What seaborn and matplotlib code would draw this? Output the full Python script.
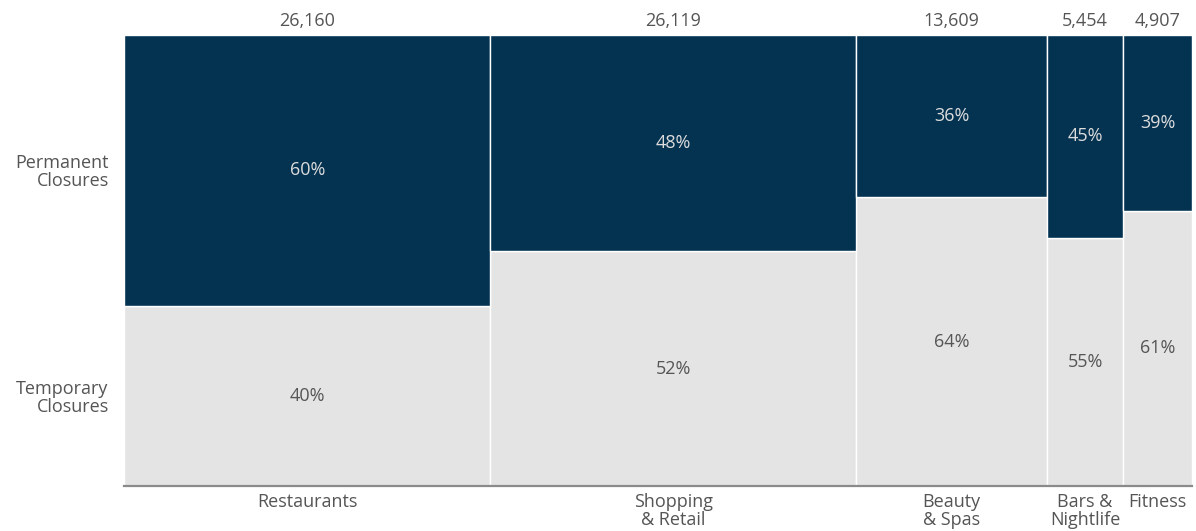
import numpy as np
import pandas as pd
import matplotlib
matplotlib.use("Agg")
import matplotlib.pyplot as plt
import seaborn as sns

# Business closures by category: total count and share that are permanent
categories = ["Restaurants", "Shopping\n& Retail", "Beauty\n& Spas", "Bars &\nNightlife", "Fitness"]
totals = [26160, 26119, 13609, 5454, 4907]
permanent_pct = [60, 48, 36, 45, 39]
temporary_pct = [40, 52, 64, 55, 61]
row_labels = ["Permanent\nClosures", "Temporary\nClosures"]

sns.set_theme(style="white")
plt.rcParams["font.family"] = ["Open Sans", "DejaVu Sans"]

DARK = "#043251"
LIGHT = "#e4e4e4"
TEXT = "#555555"
FS = 13

# Column edges: each column's width is proportional to its total count
edges = [0] + [int(v) for v in np.cumsum(totals)]
centers = [(a + b) / 2 for a, b in zip(edges[:-1], edges[1:])]

df = pd.DataFrame({
    "x": centers + centers,
    "pct": permanent_pct + temporary_pct,
    "kind": ["Permanent"] * len(totals) + ["Temporary"] * len(totals),
})

fig = plt.figure(figsize=(11.96, 5.31), dpi=100)
ax = fig.add_axes([124 / 1196, 45 / 531, 1068 / 1196, 451 / 531])

sns.histplot(
    data=df, x="x", weights="pct", hue="kind", bins=edges,
    multiple="stack", hue_order=["Permanent", "Temporary"],
    palette={"Permanent": DARK, "Temporary": LIGHT},
    edgecolor="white", linewidth=1.0, alpha=1.0, legend=False, ax=ax,
)

ax.set_xlim(edges[0], edges[-1])
ax.set_ylim(0, 100)
ax.set_xlabel("")
ax.set_ylabel("")

# Percentage labels centred in each segment; totals above each column
for c, p, t, n in zip(centers, permanent_pct, temporary_pct, totals):
    ax.text(c, t + p / 2, f"{p}%", ha="center", va="center", color="#dddddd", fontsize=FS)
    ax.text(c, t / 2, f"{t}%", ha="center", va="center", color=TEXT, fontsize=FS)
    ax.text(c, 101.0, f"{n:,}", ha="center", va="bottom", color=TEXT, fontsize=FS)

ax.set_xticks(centers)
ax.set_xticklabels(categories, color=TEXT, fontsize=FS, linespacing=1.0)
ax.set_yticks([temporary_pct[0] + permanent_pct[0] / 2, temporary_pct[0] / 2])
ax.set_yticklabels(row_labels, color=TEXT, fontsize=FS, ha="right", linespacing=0.98)
ax.tick_params(axis="both", length=0)
ax.tick_params(axis="x", pad=5)
ax.tick_params(axis="y", pad=11)

for side in ["top", "right", "left"]:
    ax.spines[side].set_visible(False)
ax.spines["bottom"].set_color("#8a8a8a")
ax.spines["bottom"].set_linewidth(1.6)

fig.savefig("out.png", dpi=100)
